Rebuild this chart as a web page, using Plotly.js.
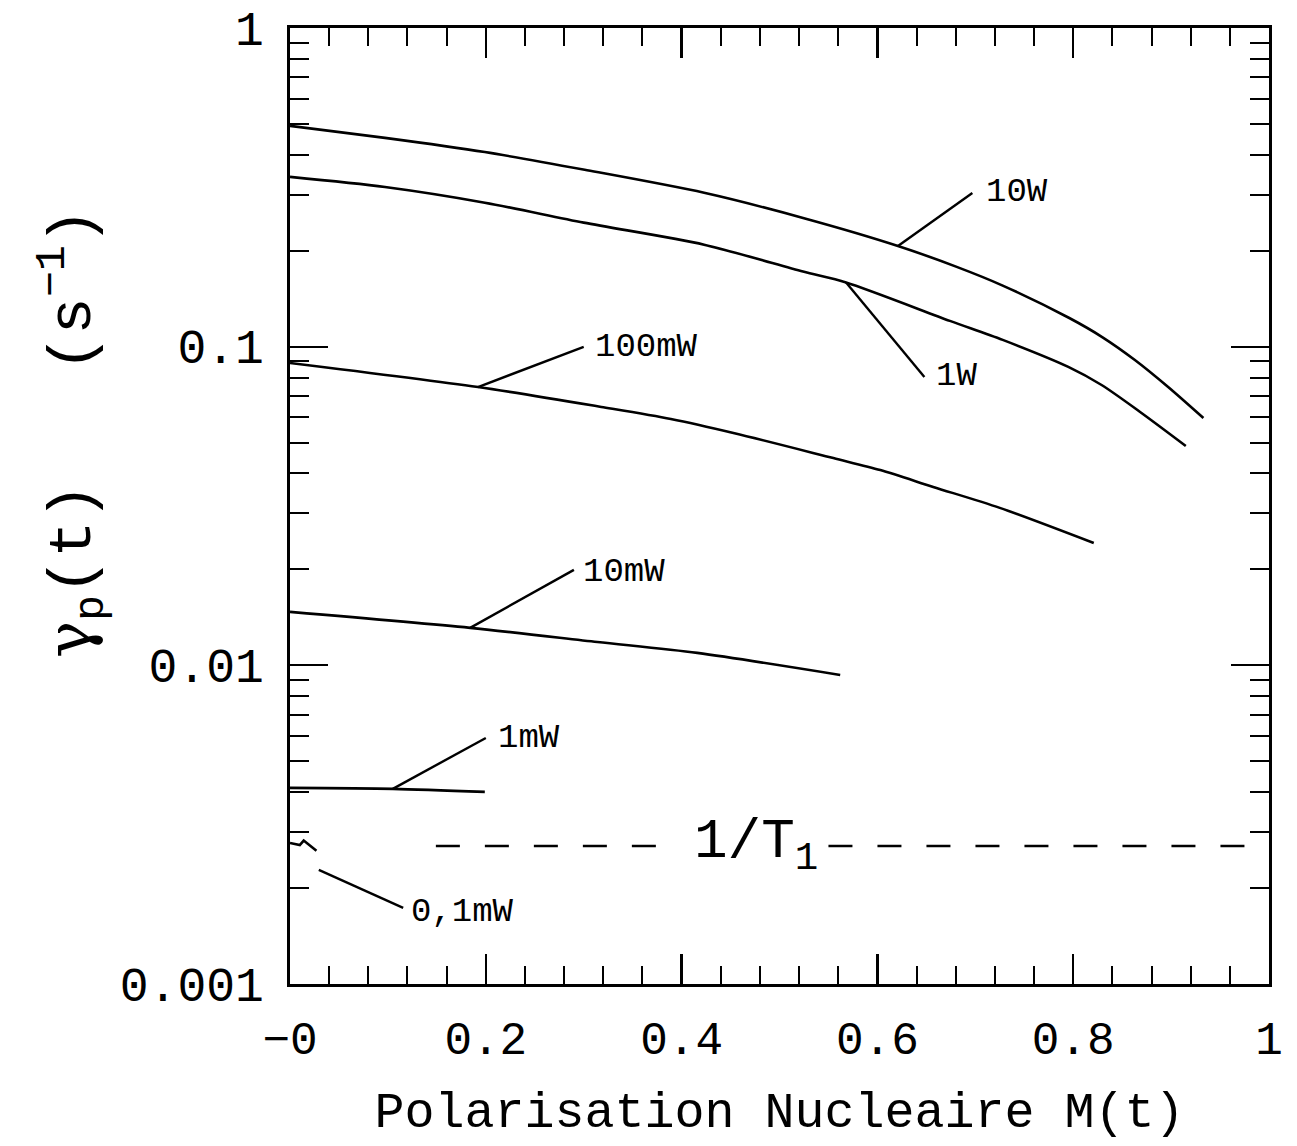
<!DOCTYPE html>
<html>
<head>
<meta charset="utf-8">
<script src="https://cdn.plot.ly/plotly-3.0.1.min.js"></script>
<style>html,body{margin:0;padding:0;background:#fff;}#chart{width:1297px;height:1146px;}</style>
</head>
<body>
<div id="chart"></div>
<script>
// Curves: nuclear polarisation M(t) vs pumping rate gamma_p(t) (s^-1)
const m10W   = [0, 0.097, 0.199, 0.301, 0.423, 0.525, 0.621, 0.681, 0.728, 0.796, 0.830, 0.863, 0.897, 0.933];
const g10W   = [0.493, 0.452, 0.408, 0.359, 0.304, 0.253, 0.207, 0.178, 0.1555, 0.123, 0.107, 0.0908, 0.0747, 0.0597];
const m1W    = [0, 0.097, 0.199, 0.300, 0.423, 0.524, 0.568, 0.674, 0.728, 0.795, 0.829, 0.868, 0.915];
const g1W    = [0.341, 0.317, 0.283, 0.245, 0.209, 0.172, 0.159, 0.1205, 0.105, 0.0864, 0.0758, 0.0625, 0.0488];
const m100mW = [0, 0.192, 0.318, 0.389, 0.454, 0.555, 0.603, 0.657, 0.725, 0.821];
const g100mW = [0.0889, 0.0747, 0.0647, 0.0593, 0.0535, 0.0447, 0.0410, 0.0363, 0.0312, 0.0242];
const m10mW  = [0, 0.184, 0.314, 0.416, 0.562];
const g10mW  = [0.01471, 0.01311, 0.01184, 0.01094, 0.00933];
const m1mW   = [0, 0.105, 0.199];
const g1mW   = [0.004124, 0.004095, 0.004007];
const m01mW  = [0, 0.010, 0.014, 0.027];
const g01mW  = [0.00277, 0.00273, 0.00282, 0.00262];

// 1/T1 relaxation rate (dashed line) and the gap left for its label
const invT1 = 0.002712;
const t1LeftM  = [0.149, 0.377];
const t1RightM = [0.55, 1.0];
const t1LabelM = 0.476;

// Curve labels: text, label anchor (M, gamma), leader line end on curve (M, gamma)
const labelText = ["10W", "1W", "100mW", "10mW", "1mW", "0,1mW"];
const labelM    = [0.709, 0.658, 0.310, 0.297, 0.210, 0.122];
const labelG    = [0.3057, 0.0809, 0.0998, 0.01963, 0.00592, 0.001683];
const leadFromM = [0.697, 0.648, 0.300, 0.290, 0.200, 0.1156];
const leadFromG = [0.3035, 0.0803, 0.0998, 0.01993, 0.005918, 0.001733];
const leadToM   = [0.621, 0.568, 0.192, 0.184, 0.105, 0.0294];
const leadToG   = [0.207, 0.159, 0.0747, 0.01311, 0.004095, 0.00228];

// Axis ticks
const xTickVals = [0, 0.2, 0.4, 0.6, 0.8, 1];
const xTickText = ["\u22120", "0.2", "0.4", "0.6", "0.8", "1"];
const xMinorVals = [0.04,0.08,0.12,0.16,0.24,0.28,0.32,0.36,0.44,0.48,0.52,0.56,0.64,0.68,0.72,0.76,0.84,0.88,0.92,0.96];
const yTickVals = [0.001, 0.01, 0.1, 1];
const yTickText = ["0.001", "0.01", "0.1", "1"];
const yMinorVals = [];
[0.001, 0.01, 0.1].forEach(d => { for (let k = 2; k <= 9; k++) yMinorVals.push(+(d * k).toPrecision(3)); });

const FONT = "Liberation Mono, DejaVu Sans Mono, monospace";
const curveLine = {color: "#000", width: 2.6, shape: "spline", smoothing: 0.8};

const traces = [
  {x: m10W, y: g10W}, {x: m1W, y: g1W}, {x: m100mW, y: g100mW},
  {x: m10mW, y: g10mW}, {x: m1mW, y: g1mW}
].map(t => Object.assign(t, {type: "scatter", mode: "lines", line: curveLine, hoverinfo: "skip"}));
traces.push({type: "scatter", mode: "lines", hoverinfo: "skip", x: m01mW, y: g01mW, line: {color: "#000", width: 2.6}});

traces.push({
  type: "scatter", mode: "lines", hoverinfo: "skip",
  x: [t1LeftM[0], t1LeftM[1], null, t1RightM[0], t1RightM[1]],
  y: [invT1, invT1, null, invT1, invT1],
  connectgaps: false,
  line: {color: "#000", width: 2.6, dash: "24px,25px"}
});

for (let i = 0; i < labelText.length; i++) {
  traces.push({
    type: "scatter", mode: "lines", hoverinfo: "skip",
    x: [leadFromM[i], leadToM[i]], y: [leadFromG[i], leadToG[i]],
    line: {color: "#000", width: 2.4}
  });
}

const annotations = labelText.map((t, i) => ({
  x: labelM[i], y: Math.log10(labelG[i]), xref: "x", yref: "y",
  text: t, showarrow: false, xanchor: "left", yanchor: "middle",
  font: {family: FONT, size: 34, color: "#000"}
}));
annotations.push({
  x: t1LabelM, y: Math.log10(invT1), xref: "x", yref: "y",
  text: "1/T<sub>1</sub>", showarrow: false, xanchor: "center", yanchor: "middle",
  font: {family: FONT, size: 56, color: "#000"}
});
annotations.push({
  x: -0.222, y: 0.576, xref: "paper", yref: "paper",
  text: "<span style=\"font-family:'DejaVu Serif'\">\u03b3</span><sub>p</sub>(t)   (s<sup>\u22121</sup>)", showarrow: false, textangle: -90,
  xanchor: "center", yanchor: "middle",
  font: {family: FONT, size: 62, color: "#000"}
});

const layout = {
  width: 1297, height: 1146,
  margin: {l: 290, r: 28, t: 28, b: 162},
  paper_bgcolor: "#fff", plot_bgcolor: "#fff",
  showlegend: false,
  xaxis: {
    range: [0, 1], tickmode: "array", tickvals: xTickVals, ticktext: xTickText,
    ticks: "inside", ticklen: 30, tickwidth: 2.2, tickcolor: "#000",
    minor: {tickmode: "array", tickvals: xMinorVals, ticks: "inside", ticklen: 18, tickwidth: 2, tickcolor: "#000", showgrid: false},
    showline: true, linecolor: "#000", linewidth: 2.6, mirror: "ticks",
    showgrid: false, zeroline: false,
    ticklabelstandoff: 12,
    tickfont: {family: FONT, size: 46, color: "#000"},
    title: {text: "Polarisation Nucleaire M(t)", standoff: 26, font: {family: FONT, size: 50, color: "#000"}}
  },
  yaxis: {
    type: "log", range: [-3, 0], tickmode: "array", tickvals: yTickVals, ticktext: yTickText,
    ticks: "inside", ticklen: 38, tickwidth: 2.2, tickcolor: "#000",
    minor: {tickmode: "array", tickvals: yMinorVals, ticks: "inside", ticklen: 19, tickwidth: 2, tickcolor: "#000", showgrid: false},
    showline: true, linecolor: "#000", linewidth: 2.6, mirror: "ticks",
    showgrid: false, zeroline: false,
    ticklabelstandoff: 14,
    tickfont: {family: FONT, size: 48, color: "#000"}
  },
  annotations: annotations
};

Plotly.newPlot("chart", traces, layout, {staticPlot: true, displayModeBar: false});
</script>
</body>
</html>
